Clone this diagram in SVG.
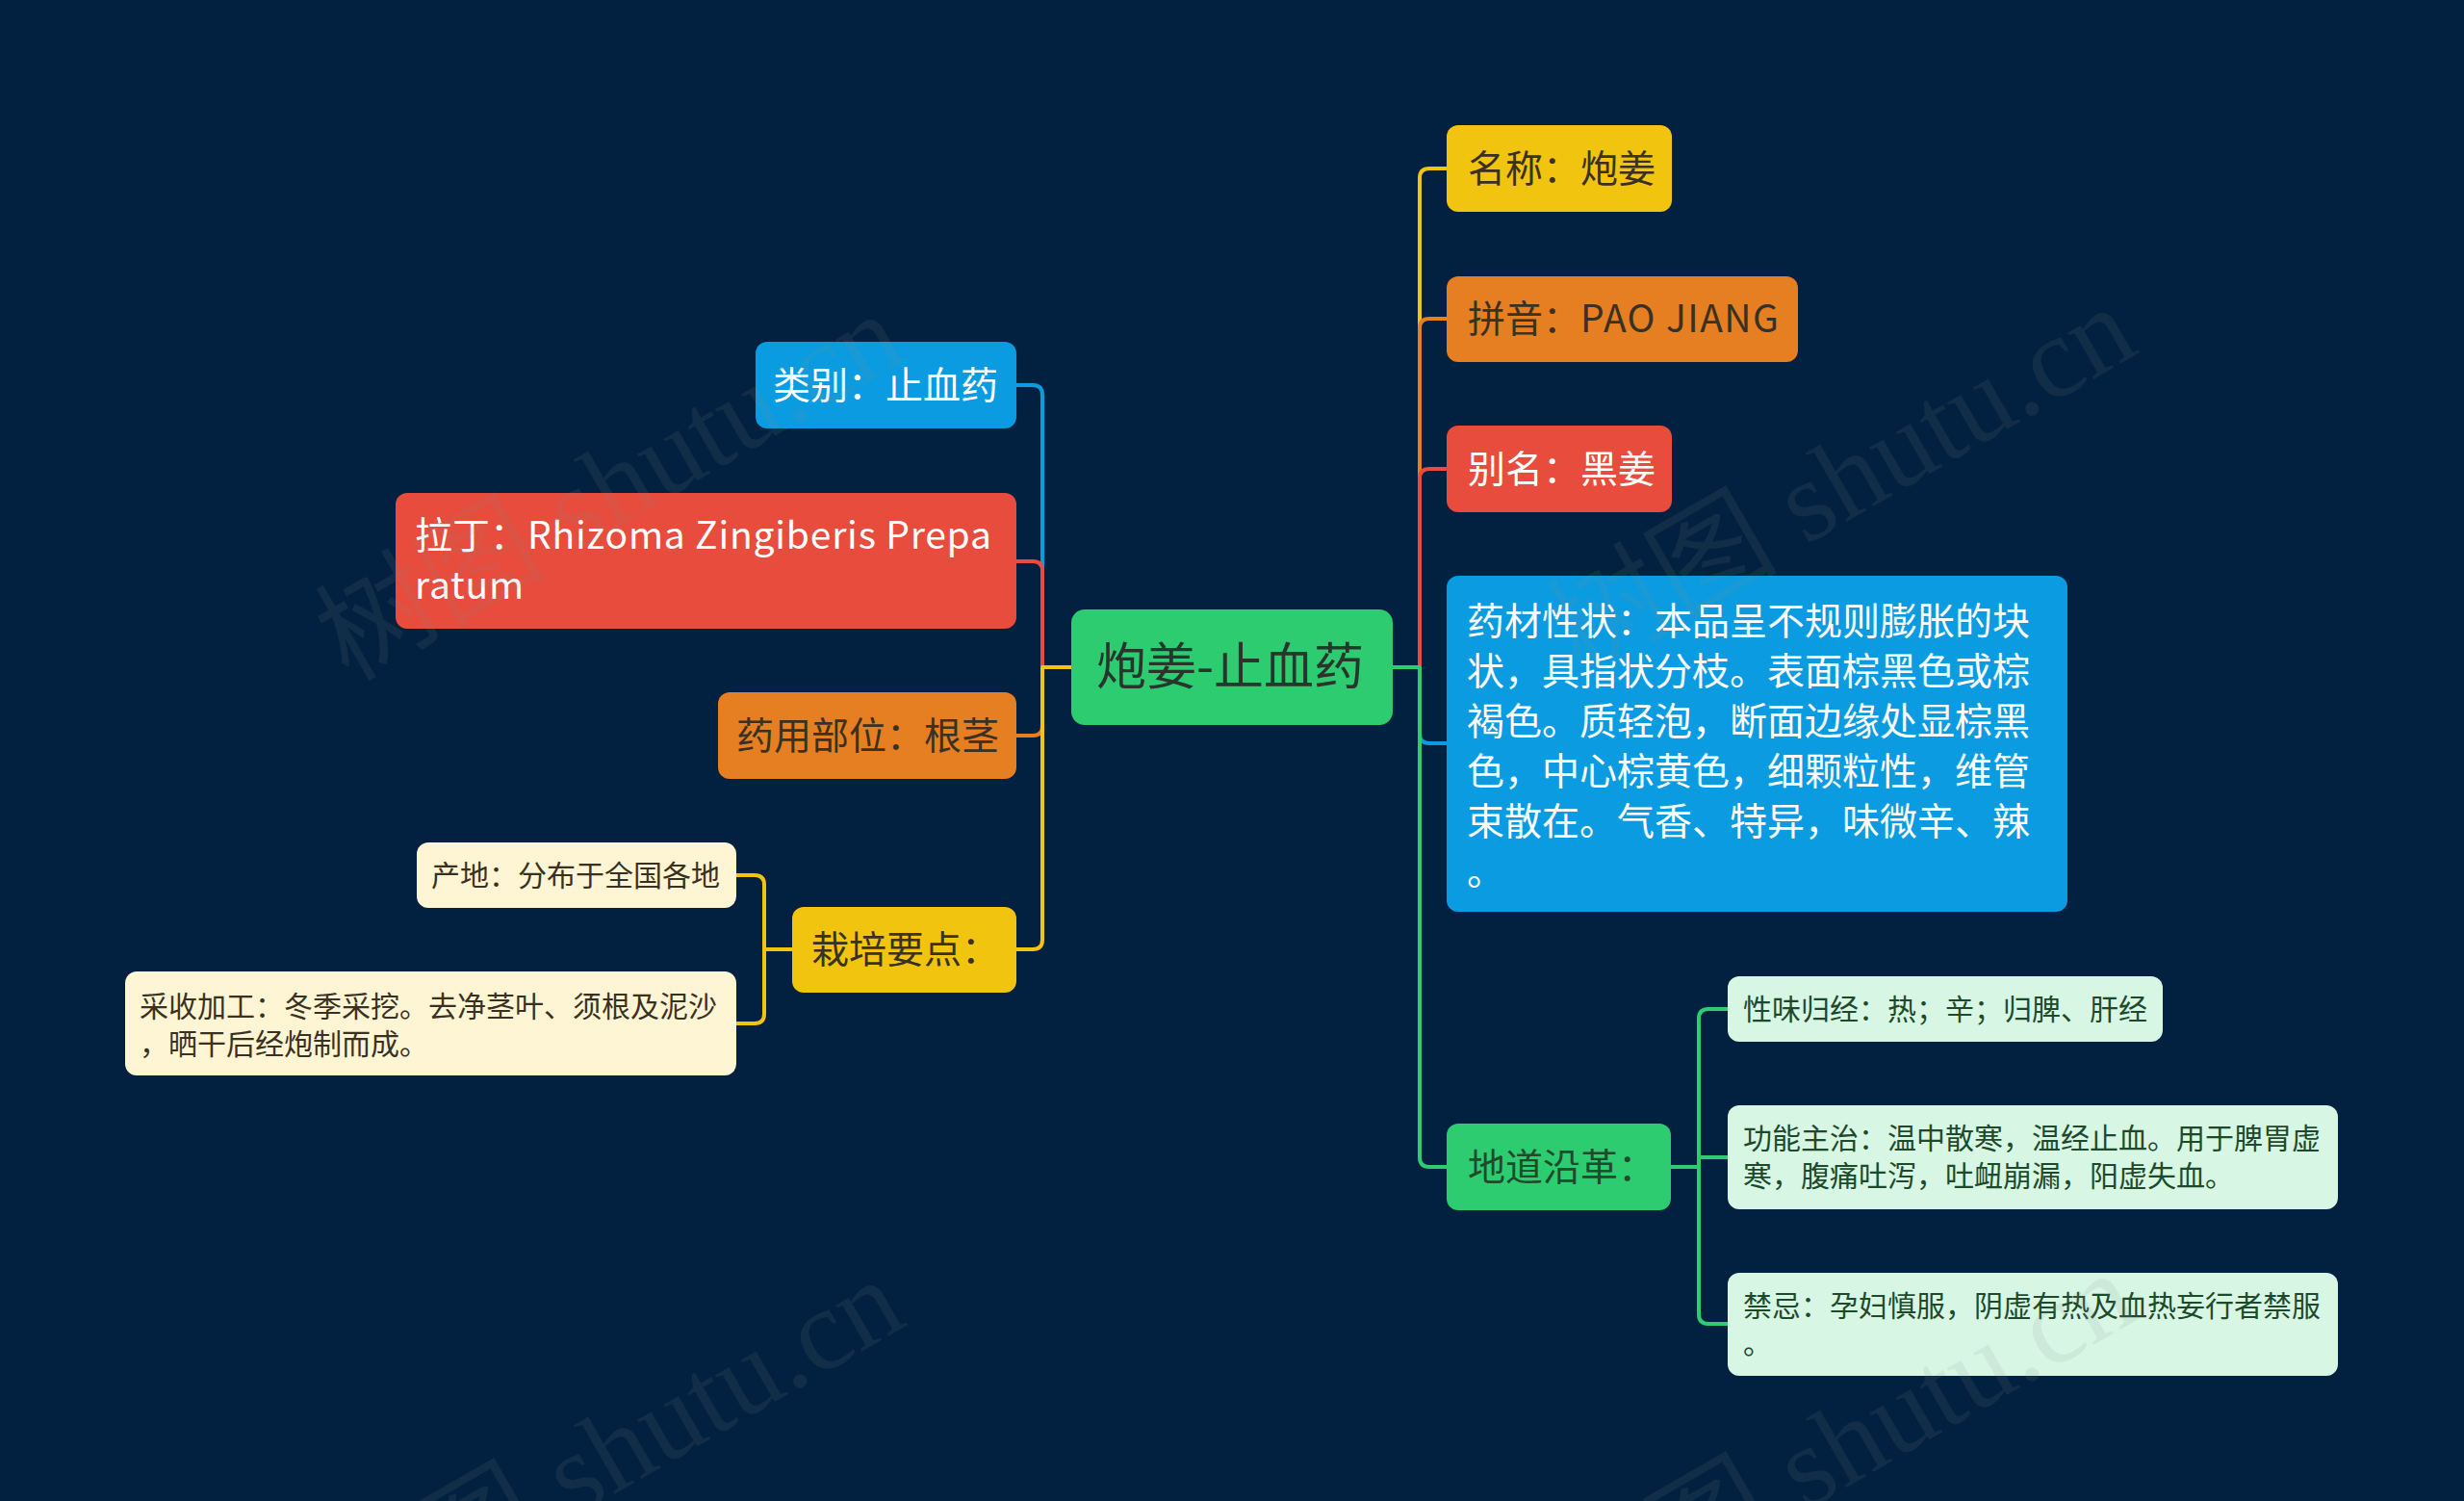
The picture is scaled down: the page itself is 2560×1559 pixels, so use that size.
<svg xmlns="http://www.w3.org/2000/svg" width="2560" height="1559" viewBox="0 0 2560 1559">
<style>
text{font-family:"Noto Sans CJK SC","Noto Sans",sans-serif}
.c{fill:none;stroke-width:4;stroke-linejoin:round;stroke-linecap:round}
.t39{font-size:39px}
.t30{font-size:30px}
.wt{fill:#ffffff}
.dk{fill:#3a3122}
.dg{fill:#1d4a2b}
.lat{letter-spacing:0.8px}
.wm{font-family:"Liberation Serif","Noto Sans CJK SC",serif;font-size:120px;fill:#8a8a8a;fill-opacity:0.12}
</style>
<rect x="0" y="0" width="2560" height="1559" fill="#02203f"/>
<g id="connectors">
<path class="c" stroke="#0a9be0" d="M1113,693 H1083 V410 Q1083,400 1073,400 H1056"/>
<path class="c" stroke="#e74c3c" d="M1113,693 H1083 V593 Q1083,583 1073,583 H1056"/>
<path class="c" stroke="#e67e22" d="M1113,693 H1083 V754 Q1083,764 1073,764 H1056"/>
<path class="c" stroke="#f1c40f" d="M1113,693 H1083 V976 Q1083,986 1073,986 H1056"/>
<path class="c" stroke="#f1c40f" d="M823,986 H794 V919 Q794,909 784,909 H765"/>
<path class="c" stroke="#f1c40f" d="M823,986 H794 V1053 Q794,1063 784,1063 H765"/>
<path class="c" stroke="#f1c40f" d="M1447,693 H1475 V185 Q1475,175 1485,175 H1503"/>
<path class="c" stroke="#e67e22" d="M1447,693 H1475 V341 Q1475,331 1485,331 H1503"/>
<path class="c" stroke="#e74c3c" d="M1447,693 H1475 V497 Q1475,487 1485,487 H1503"/>
<path class="c" stroke="#0a9be0" d="M1447,693 H1475 V762 Q1475,772 1485,772 H1503"/>
<path class="c" stroke="#2ecc71" d="M1447,693 H1475 V1202 Q1475,1212 1485,1212 H1503"/>
<path class="c" stroke="#2ecc71" d="M1736,1212 H1765 V1058 Q1765,1048 1775,1048 H1795"/>
<path class="c" stroke="#2ecc71" d="M1736,1212 H1765 V1202 H1795"/>
<path class="c" stroke="#2ecc71" d="M1736,1212 H1765 V1365 Q1765,1375 1775,1375 H1795"/>
</g>
<g id="center">
<rect x="1113" y="633" width="334" height="120" rx="14" fill="#2ecc71"/>
<text x="1139" y="711" font-size="52" fill="#28352c">炮姜-止血药</text>
</g>
<g id="n-leibie">
<rect x="785" y="355" width="271" height="90" rx="12" fill="#0a9be0"/>
<text class="t39 wt" x="803" y="414">类别：止血药</text>
</g>
<g id="n-lading">
<rect x="411" y="512" width="645" height="141" rx="12" fill="#e74c3c"/>
<text class="t39 wt" x="431" y="570">拉丁：<tspan class="lat">Rhizoma Zingiberis Prepa</tspan></text>
<text class="t39 wt lat" x="431" y="622">ratum</text>
</g>
<g id="n-yaoyong">
<rect x="746" y="719" width="310" height="90" rx="12" fill="#e67e22"/>
<text class="t39 dk" x="765" y="778">药用部位：根茎</text>
</g>
<g id="n-zaipei">
<rect x="823" y="942" width="233" height="89" rx="12" fill="#f1c40f"/>
<text class="t39 dk" x="843" y="1000">栽培要点：</text>
</g>
<g id="n-chandi">
<rect x="433" y="875" width="332" height="68" rx="12" fill="#fdf5d3"/>
<text class="t30 dk" x="448" y="920">产地：分布于全国各地</text>
</g>
<g id="n-caishou">
<rect x="130" y="1009" width="635" height="108" rx="12" fill="#fdf5d3"/>
<text class="t30 dk" x="145" y="1056">采收加工：冬季采挖。去净茎叶、须根及泥沙</text>
<text class="t30 dk" x="145" y="1095">，晒干后经炮制而成。</text>
</g>
<g id="n-mingcheng">
<rect x="1503" y="130" width="234" height="90" rx="12" fill="#f1c40f"/>
<text class="t39 dk" x="1525" y="189">名称：炮姜</text>
</g>
<g id="n-pinyin">
<rect x="1503" y="287" width="365" height="89" rx="12" fill="#e67e22"/>
<text class="t39 dk" x="1525" y="345">拼音：<tspan style="letter-spacing:1.4px">PAO JIANG</tspan></text>
</g>
<g id="n-bieming">
<rect x="1503" y="442" width="234" height="90" rx="12" fill="#e74c3c"/>
<text class="t39 wt" x="1525" y="501">别名：黑姜</text>
</g>
<g id="n-xingzhuang">
<rect x="1503" y="598" width="645" height="349" rx="12" fill="#0a9be0"/>
<text class="t39 wt" x="1524" y="659">药材性状：本品呈不规则膨胀的块</text>
<text class="t39 wt" x="1524" y="711">状，具指状分枝。表面棕黑色或棕</text>
<text class="t39 wt" x="1524" y="763">褐色。质轻泡，断面边缘处显棕黑</text>
<text class="t39 wt" x="1524" y="815">色，中心棕黄色，细颗粒性，维管</text>
<text class="t39 wt" x="1524" y="867">束散在。气香、特异，味微辛、辣</text>
<text class="t39 wt" x="1524" y="919">。</text>
</g>
<g id="n-didao">
<rect x="1503" y="1167" width="233" height="90" rx="12" fill="#2ecc71"/>
<text class="t39" fill="#1f4a2c" x="1525" y="1226">地道沿革：</text>
</g>
<g id="n-xingwei">
<rect x="1795" y="1014" width="452" height="68" rx="12" fill="#d7f6e4"/>
<text class="t30 dg" x="1811" y="1059">性味归经：热；辛；归脾、肝经</text>
</g>
<g id="n-gongneng">
<rect x="1795" y="1148" width="634" height="108" rx="12" fill="#d7f6e4"/>
<text class="t30 dg" x="1811" y="1193">功能主治：温中散寒，温经止血。用于脾胃虚</text>
<text class="t30 dg" x="1811" y="1232">寒，腹痛吐泻，吐衄崩漏，阳虚失血。</text>
</g>
<g id="n-jinji">
<rect x="1795" y="1322" width="634" height="107" rx="12" fill="#d7f6e4"/>
<text class="t30 dg" x="1811" y="1367">禁忌：孕妇慎服，阴虚有热及血热妄行者禁服</text>
<text class="t30 dg" x="1811" y="1406">。</text>
</g>
<g id="watermarks">
<text class="wm" text-anchor="end" transform="translate(945,372) rotate(-30)">树图 shutu.cn</text>
<text class="wm" text-anchor="end" transform="translate(2225,365) rotate(-30)">树图 shutu.cn</text>
<text class="wm" text-anchor="end" transform="translate(945,1375) rotate(-30)">树图 shutu.cn</text>
<text class="wm" text-anchor="end" transform="translate(2225,1368) rotate(-30)">树图 shutu.cn</text>
</g>
</svg>
